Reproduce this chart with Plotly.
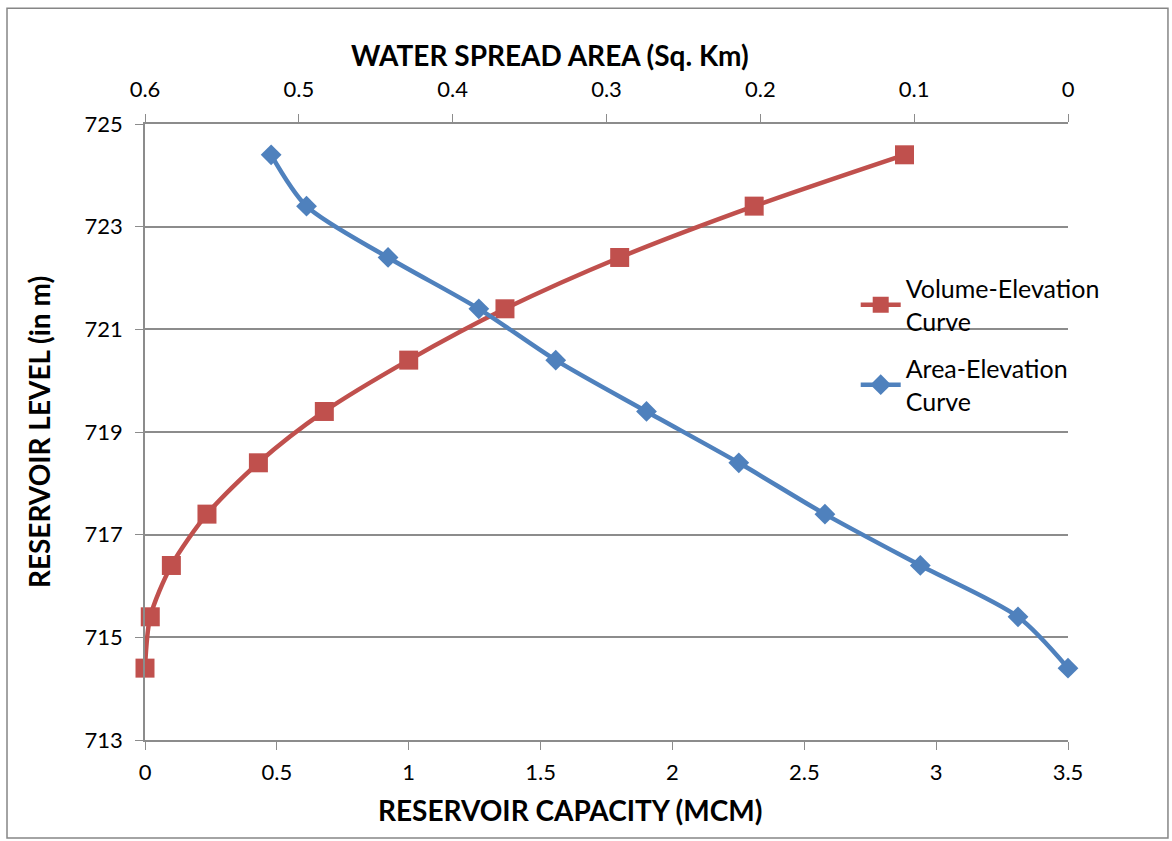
import plotly.graph_objects as go

levels = [714.4, 715.4, 716.4, 717.4, 718.4, 719.4, 720.4, 721.4, 722.4, 723.4, 724.4]
volume_mcm = [0.0, 0.02, 0.10, 0.235, 0.43, 0.68, 1.0, 1.365, 1.80, 2.31, 2.88]
area_sqkm = [0.0, 0.0325, 0.096, 0.158, 0.214, 0.274, 0.333, 0.383, 0.442, 0.495, 0.518]

RED = "#C0504D"
BLUE = "#4F81BD"
FONT = "Lato"
GRID = "#8C8C8C"

fig = go.Figure()
fig.add_trace(go.Scatter(
    x=volume_mcm, y=levels, name="Volume-Elevation<br>Curve", legendgroup="vol",
    mode="lines+markers", line=dict(color=RED, width=4.5, shape="spline", smoothing=0.8),
    marker=dict(symbol="square", size=19, color=RED), xaxis="x", yaxis="y", cliponaxis=False))
fig.add_trace(go.Scatter(
    x=area_sqkm, y=levels, name="Area-Elevation<br>Curve", legendgroup="area",
    mode="lines+markers", line=dict(color=BLUE, width=4.5, shape="spline", smoothing=0.8),
    marker=dict(symbol="diamond", size=16, color=BLUE), xaxis="x2", yaxis="y", cliponaxis=False))

fig.update_layout(
    width=1172, height=841,
    margin=dict(l=145, r=104, t=124, b=101),
    paper_bgcolor="white", plot_bgcolor="white",
    font=dict(family=FONT, size=22, color="black"),
    xaxis=dict(range=[0, 3.5], dtick=0.5, tick0=0, showgrid=False, showline=True,
               linecolor=GRID, linewidth=1.5, ticks="outside", ticklen=8, tickcolor=GRID,
               zeroline=False, tickfont=dict(size=22), ticklabelstandoff=4),
    xaxis2=dict(range=[0.6, 0], dtick=0.1, tick0=0, overlaying="x", side="top", anchor="y",
                showgrid=False, showline=True, linecolor=GRID, linewidth=1.5,
                ticks="outside", ticklen=8, tickcolor=GRID, zeroline=False,
                tickfont=dict(size=22), ticklabelstandoff=8),
    yaxis=dict(range=[713, 725], dtick=2, tick0=713, showgrid=True, gridcolor=GRID, gridwidth=1.5,
               showline=True, linecolor=GRID, linewidth=1.5, ticks="outside", ticklen=8,
               tickcolor=GRID, zeroline=False, tickfont=dict(size=22), ticklabelstandoff=8,
               title=dict(text="<b>RESERVOIR LEVEL (in m)</b>", font=dict(size=28), standoff=26)),
    legend=dict(x=0.77, y=0.77, xanchor="left", yanchor="top", bgcolor="rgba(0,0,0,0)",
                font=dict(size=25), tracegroupgap=12, itemwidth=40),
    showlegend=True,
    annotations=[
        dict(text="<b>WATER SPREAD AREA (Sq. Km)</b>", xref="paper", yref="paper",
             x=0.439, y=1.112, xanchor="center", yanchor="middle", showarrow=False,
             font=dict(size=28)),
        dict(text="<b>RESERVOIR CAPACITY (MCM)</b>", xref="paper", yref="paper",
             x=0.4605, y=-0.1136, xanchor="center", yanchor="middle", showarrow=False,
             font=dict(size=28)),
    ],
    shapes=[dict(type="rect", xref="paper", yref="paper", x0=-0.1495, x1=1.1083, y0=-0.159, y1=1.188,
                 line=dict(color="#868686", width=1.5), fillcolor="rgba(0,0,0,0)", layer="below")],
)

fig.write_html("out.html", config={"displayModeBar": False},
               post_script="document.body.style.margin='0';document.body.style.overflow='hidden';")
